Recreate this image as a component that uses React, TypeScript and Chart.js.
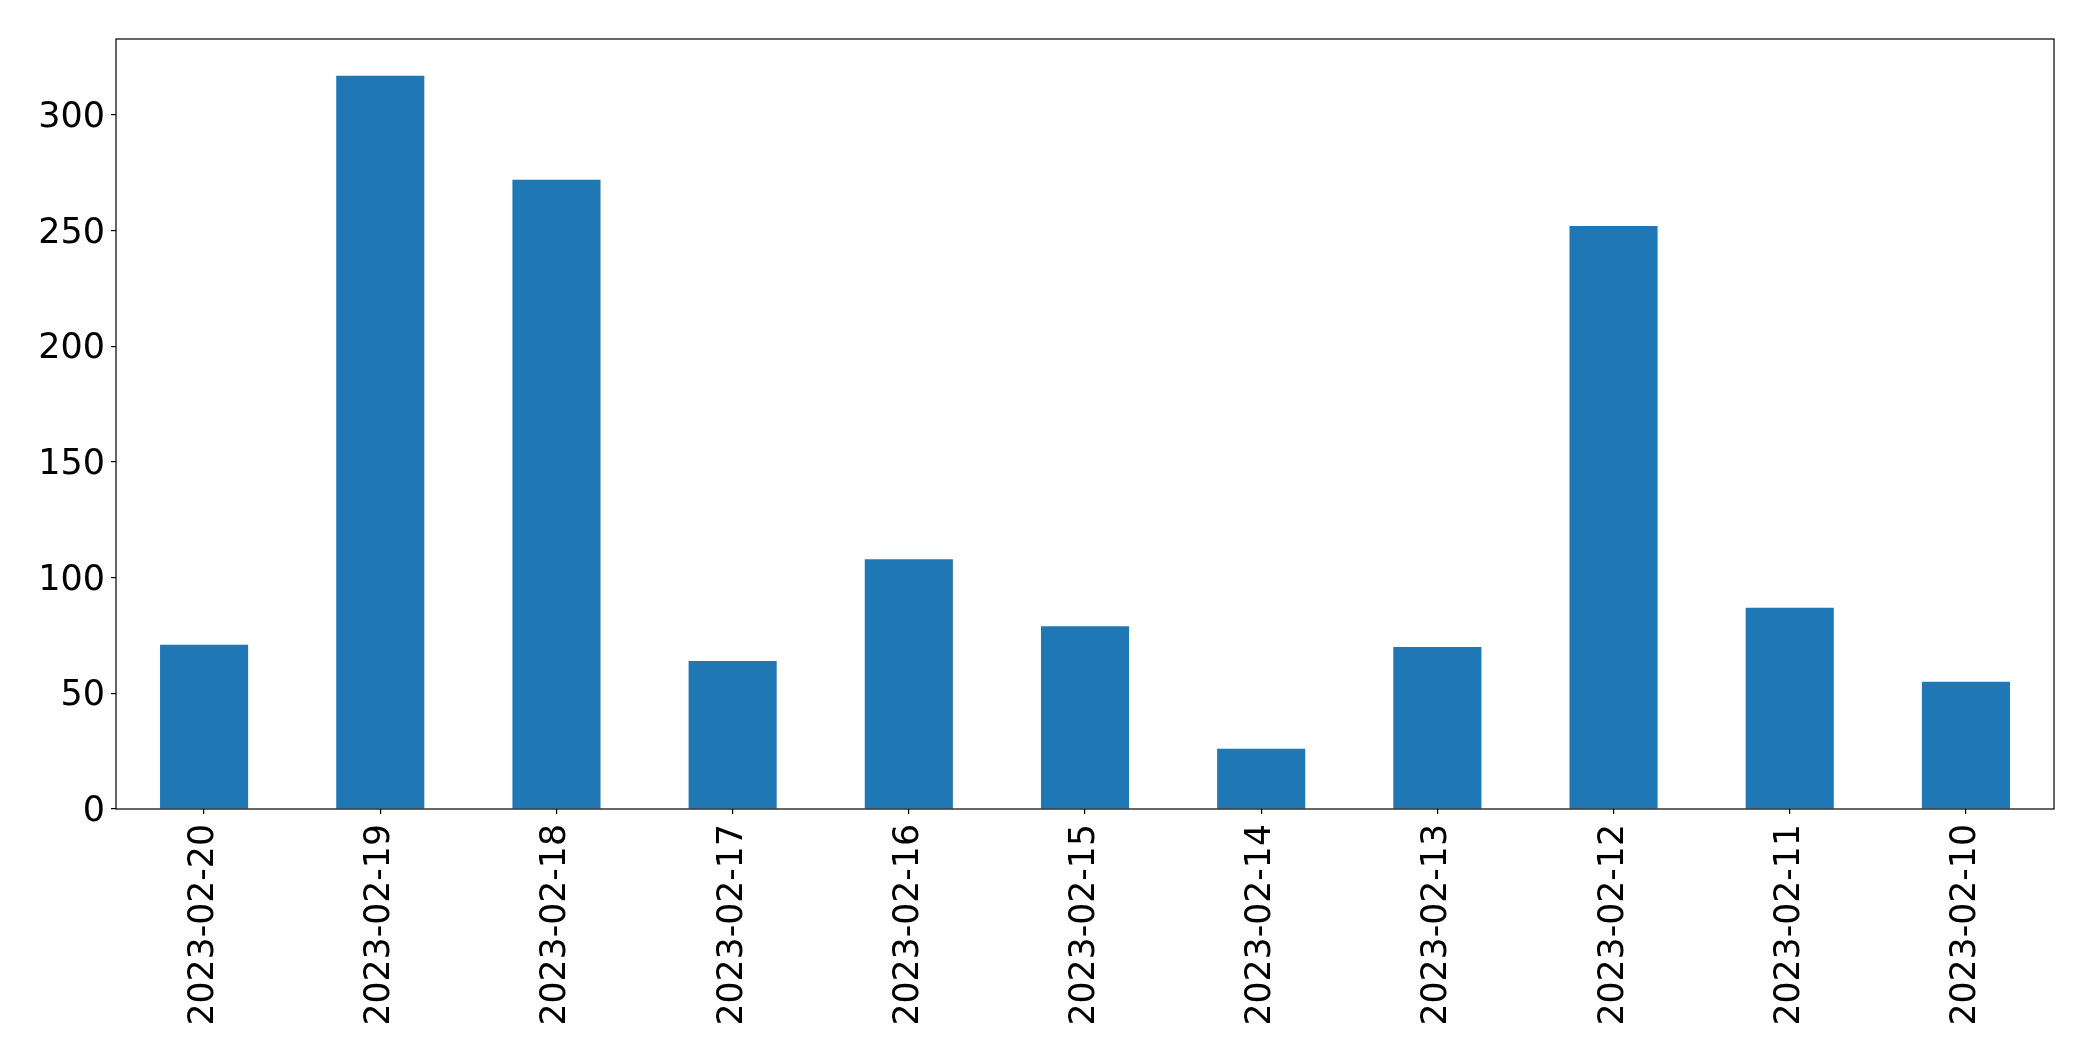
import React, { useEffect, useRef } from "react";
import { Chart, registerables } from "chart.js";

Chart.register(...registerables);

const categories = [
  "2023-02-20",
  "2023-02-19",
  "2023-02-18",
  "2023-02-17",
  "2023-02-16",
  "2023-02-15",
  "2023-02-14",
  "2023-02-13",
  "2023-02-12",
  "2023-02-11",
  "2023-02-10",
];
const values = [71, 317, 272, 64, 108, 79, 26, 70, 252, 87, 55];
const yTickStep = 50;

const W = 2093;
const H = 1061;
const FONT = "'DejaVu Sans', sans-serif";

export default function App() {
  const ref = useRef<HTMLCanvasElement | null>(null);

  useEffect(() => {
    document.body.style.margin = "0";
    const canvas = ref.current!;
    const frame = {
      id: "frame",
      afterDraw(chart: any) {
        const { ctx, chartArea } = chart;
        ctx.save();
        ctx.strokeStyle = "#000";
        ctx.lineWidth = 1.2;
        ctx.strokeRect(chartArea.left, chartArea.top, chartArea.right - chartArea.left, chartArea.bottom - chartArea.top);
        ctx.restore();
      },
    };
    const maxV = Math.max(...values) * 1.05;
    const chart = new Chart(canvas, {
      type: "bar",
      data: {
        labels: categories,
        datasets: [
          {
            data: values,
            backgroundColor: "#1f77b4",
            borderWidth: 0,
            categoryPercentage: 1,
            barPercentage: 0.5,
          },
        ],
      },
      options: {
        animation: false,
        responsive: false,
        devicePixelRatio: 1,
        layout: { padding: { top: 39, right: 39, left: 0, bottom: 0 } },
        plugins: { legend: { display: false }, tooltip: { enabled: false } },
        scales: {
          x: {
            offset: true,
            border: { display: false },
            grid: {
              offset: false,
              drawOnChartArea: false,
              drawTicks: true,
              tickLength: 5,
              color: "#000",
              lineWidth: 1.2,
            },
            ticks: {
              minRotation: 90,
              maxRotation: 90,
              autoSkip: false,
              padding: 10,
              color: "#000",
              font: { family: FONT, size: 34.7 },
            },
            afterFit(scale: any) {
              scale.height = H - 809;
            },
          },
          y: {
            min: 0,
            max: maxV,
            border: { display: false },
            grid: {
              drawOnChartArea: false,
              drawTicks: true,
              tickLength: 5,
              color: "#000",
              lineWidth: 1.2,
            },
            ticks: {
              stepSize: yTickStep,
              includeBounds: false,
              padding: 6,
              labelOffset: 3,
              color: "#000",
              font: { family: FONT, size: 35 },
            },
            afterFit(scale: any) {
              scale.width = 116;
            },
          },
        },
      },
      plugins: [frame],
    });
    return () => chart.destroy();
  }, []);

  return (
    <div style={{ position: "fixed", left: 0, top: 0, width: W, height: H, background: "#fff" }}>
      <canvas ref={ref} width={W} height={H} style={{ display: "block", width: W, height: H }} />
    </div>
  );
}
